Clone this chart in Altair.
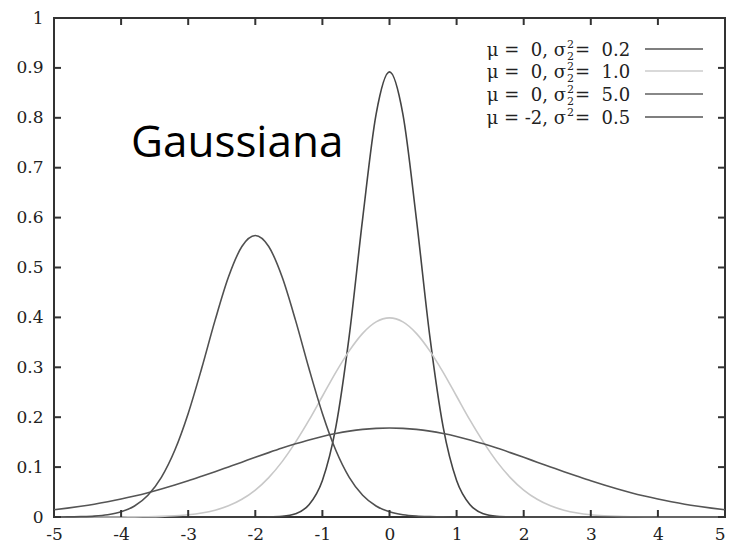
import altair as alt
import pandas as pd

# x sample positions
X = [-5.0, -4.8, -4.6, -4.4, -4.2, -4.0, -3.8, -3.6, -3.4, -3.2,
     -3.0, -2.8, -2.6, -2.4, -2.2, -2.0, -1.8, -1.6, -1.4, -1.2,
     -1.0, -0.8, -0.6, -0.4, -0.2, 0.0, 0.2, 0.4, 0.6, 0.8,
     1.0, 1.2, 1.4, 1.6, 1.8, 2.0, 2.2, 2.4, 2.6, 2.8,
     3.0, 3.2, 3.4, 3.6, 3.8, 4.0, 4.2, 4.4, 4.6, 4.8, 5.0]

# mu = 0, sigma^2 = 0.2
Y_A = [0, 0, 0, 0, 0, 0, 0, 0, 0, 0,
       0, 0, 0, 0, 0, 0, 0.0003, 0.0015, 0.0066, 0.0244,
       0.0732, 0.180, 0.363, 0.598, 0.807, 0.892, 0.807, 0.598, 0.363, 0.180,
       0.0732, 0.0244, 0.0066, 0.0015, 0.0003, 0, 0, 0, 0, 0,
       0, 0, 0, 0, 0, 0, 0, 0, 0, 0, 0]
# mu = 0, sigma^2 = 1.0
Y_B = [0, 0, 0, 0, 0, 0.0001, 0.0003, 0.0006, 0.0012, 0.0024,
       0.0044, 0.0079, 0.0136, 0.0224, 0.0355, 0.0540, 0.0790, 0.111, 0.150, 0.194,
       0.242, 0.290, 0.333, 0.368, 0.391, 0.399, 0.391, 0.368, 0.333, 0.290,
       0.242, 0.194, 0.150, 0.111, 0.0790, 0.0540, 0.0355, 0.0224, 0.0136, 0.0079,
       0.0044, 0.0024, 0.0012, 0.0006, 0.0003, 0.0001, 0, 0, 0, 0, 0]
# mu = 0, sigma^2 = 5.0
Y_C = [0.0146, 0.0178, 0.0215, 0.0257, 0.0306, 0.0360, 0.0421, 0.0488, 0.0562, 0.0641,
       0.0725, 0.0815, 0.0907, 0.1003, 0.1099, 0.1196, 0.1290, 0.1381, 0.1466, 0.1545,
       0.1614, 0.1673, 0.1721, 0.1756, 0.1777, 0.1784, 0.1777, 0.1756, 0.1721, 0.1673,
       0.1614, 0.1545, 0.1466, 0.1381, 0.1290, 0.1196, 0.1099, 0.1003, 0.0907, 0.0815,
       0.0725, 0.0641, 0.0562, 0.0488, 0.0421, 0.0360, 0.0306, 0.0257, 0.0215, 0.0178, 0.0146]
# mu = -2, sigma^2 = 0.5
Y_D = [0.0001, 0.0002, 0.0007, 0.0018, 0.0045, 0.0103, 0.0221, 0.0436, 0.0795, 0.1337,
       0.2076, 0.2975, 0.394, 0.481, 0.542, 0.564, 0.542, 0.481, 0.394, 0.2975,
       0.2076, 0.1337, 0.0795, 0.0436, 0.0221, 0.0103, 0.0045, 0.0018, 0.0007, 0.0002,
       0.0001, 0, 0, 0, 0, 0, 0, 0, 0, 0,
       0, 0, 0, 0, 0, 0, 0, 0, 0, 0, 0]

SERIES = ["A", "B", "C", "D"]
COLORS = ["#444444", "#c8c8c8", "#555555", "#505050"]
LEG_LEFT = ["μ =\u00a0 0, σ", "μ =\u00a0 0, σ", "μ =\u00a0 0, σ", "μ = -2, σ"]
LEG_RIGHT = ["=\u00a0 0.2", "=\u00a0 1.0", "=\u00a0 5.0", "=\u00a0 0.5"]
LEG_SUB = [True, True, True, False]
LEG_COLORS = ["#555555", "#cccccc", "#888888", "#555555"]

X_TICKS = [-5, -4, -3, -2, -1, 0, 1, 2, 3, 4, 5]
Y_TICKS = [0, 0.1, 0.2, 0.3, 0.4, 0.5, 0.6, 0.7, 0.8, 0.9, 1]
TITLE = "Gaussiana"

W, H = 671, 499
SERIF = "DejaVu Serif"

rows = []
for s, ys in zip(SERIES, [Y_A, Y_B, Y_C, Y_D]):
    for xv, yv in zip(X, ys):
        rows.append({"x": xv, "y": yv, "s": s})
df = pd.DataFrame(rows)

xscale = alt.Scale(domain=[-5, 5], nice=False, zero=False)
yscale = alt.Scale(domain=[0, 1], nice=False)

lines = alt.Chart(df).mark_line(strokeWidth=1.6, interpolate="monotone").encode(
    x=alt.X("x:Q", scale=xscale, axis=alt.Axis(
        values=X_TICKS, labelExpr="'' + datum.value", ticks=False, tickSize=0,
        domain=False, grid=False, title=None, labelFont=SERIF, labelFontSize=17,
        labelColor="#222222", labelPadding=9, labelFlush=False,
        labelAlign=alt.condition("datum.value == 5", alt.value("right"), alt.value("center")))),
    y=alt.Y("y:Q", scale=yscale, axis=alt.Axis(
        values=Y_TICKS, labelExpr="'' + datum.value", ticks=False, tickSize=0,
        domain=False, grid=False, title=None, labelFont=SERIF, labelFontSize=17,
        labelColor="#222222", labelPadding=11, labelFlush=False)),
    color=alt.Color("s:N", scale=alt.Scale(domain=SERIES, range=COLORS), legend=None),
    detail="s:N",
)

tx = pd.DataFrame({"t": X_TICKS})
ty = pd.DataFrame({"t": Y_TICKS})
TL = 7
tick_style = dict(color="#333333", strokeWidth=2)
ticks_bottom = alt.Chart(tx).mark_rule(**tick_style).encode(
    x=alt.X("t:Q", scale=xscale), y=alt.value(H), y2=alt.value(H - TL))
ticks_top = alt.Chart(tx).mark_rule(**tick_style).encode(
    x=alt.X("t:Q", scale=xscale), y=alt.value(0), y2=alt.value(TL))
ticks_left = alt.Chart(ty).mark_rule(**tick_style).encode(
    y=alt.Y("t:Q", scale=yscale), x=alt.value(0), x2=alt.value(TL))
ticks_right = alt.Chart(ty).mark_rule(**tick_style).encode(
    y=alt.Y("t:Q", scale=yscale), x=alt.value(W), x2=alt.value(W - TL))

layers = [lines, ticks_bottom, ticks_top, ticks_left, ticks_right]

layers.append(
    alt.Chart(pd.DataFrame({"t": [TITLE]})).mark_text(
        font="Open Sans", fontSize=44, align="left", baseline="alphabetic",
        color="#000000").encode(x=alt.value(77), y=alt.value(139), text="t:N"))

ROW_Y = [31, 53, 76, 99]
for i in range(4):
    yy = ROW_Y[i]
    d = pd.DataFrame({"l": [LEG_LEFT[i]], "r": [LEG_RIGHT[i]], "two": ["2"]})
    base = alt.Chart(d)
    layers.append(base.mark_text(font=SERIF, fontSize=18, align="right",
                                 baseline="alphabetic", color="#222222").encode(
        x=alt.value(512), y=alt.value(yy + 7), text="l:N"))
    layers.append(base.mark_text(font=SERIF, fontSize=18, align="left",
                                 baseline="alphabetic", color="#222222").encode(
        x=alt.value(521), y=alt.value(yy + 7), text="r:N"))
    layers.append(base.mark_text(font=SERIF, fontSize=11, align="left",
                                 baseline="alphabetic", color="#222222").encode(
        x=alt.value(513), y=alt.value(yy - 1), text="two:N"))
    if LEG_SUB[i]:
        layers.append(base.mark_text(font=SERIF, fontSize=11, align="left",
                                     baseline="alphabetic", color="#222222").encode(
            x=alt.value(513), y=alt.value(yy + 11), text="two:N"))
    layers.append(base.mark_rule(color=LEG_COLORS[i],
                                 strokeWidth=2.2 if i == 2 else 1.6).encode(
        x=alt.value(591), x2=alt.value(649), y=alt.value(yy)))

chart = alt.layer(*layers).properties(
    width=W, height=H,
    autosize=alt.AutoSizeParams(type="none"),
    padding={"left": 46, "top": 10, "right": 1, "bottom": 25},
    background="white",
).configure_view(stroke="#333333", strokeWidth=2)

chart.save("out.html", embed_options={"renderer": "svg", "actions": False})
